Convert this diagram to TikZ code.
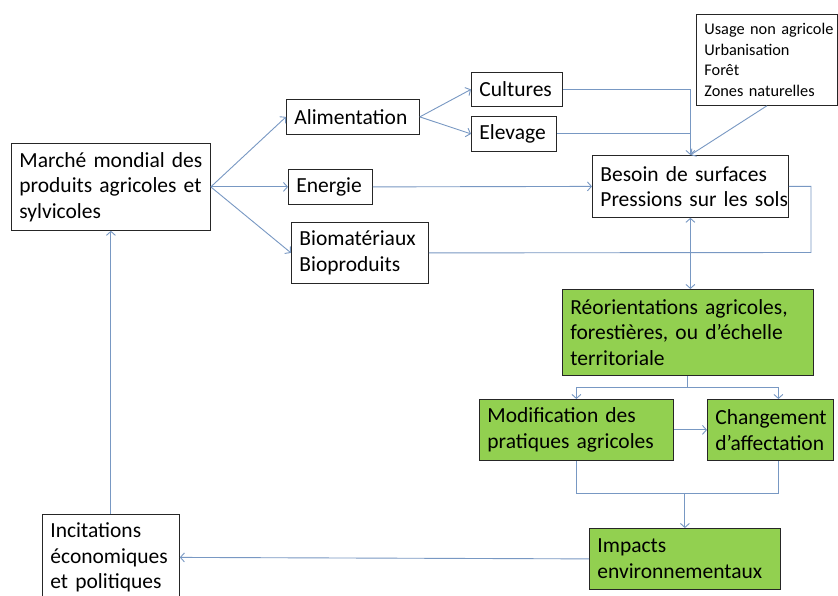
\documentclass[tikz,border=0pt]{standalone}
\usepackage{fontspec}
\setmainfont{Carlito}
\usetikzlibrary{arrows.meta,calc}
\definecolor{lnc}{RGB}{120,152,195}
\definecolor{grn}{RGB}{146,208,80}
\DeclareRobustCommand\bxfont{\fontsize{21.5}{25.5}\selectfont\spaceskip=0.17em\relax}
\DeclareRobustCommand\smfont{\fontsize{16.3}{20.5}\selectfont\spaceskip=0.2em\relax}
\begin{document}
\begin{tikzpicture}[x=1pt,y=-1pt,
  box/.style={draw=black!85,line width=0.8pt,anchor=north west,inner xsep=8pt,inner ysep=0pt,align=left,
    font=\bxfont},
  gbox/.style={box,fill=grn},
  small/.style={font=\smfont},
  ln/.style={draw=lnc,line width=0.9pt},
  arr/.style={ln,-{Straight Barb[length=4pt,width=9pt]}},
  darr/.style={ln,{Straight Barb[length=4pt,width=9pt]}-{Straight Barb[length=4pt,width=9pt]}}]
\useasboundingbox (0,0) rectangle (838,596);
\fill[white] (0,0) rectangle (838,596);
% boxes: text width = W - 16
\node[box,text width=183pt,minimum height=87pt] (marche) at (11,143) {\mbox{Marché mondial des}\\\mbox{produits agricoles et}\\sylvicoles};
\node[box,text width=117pt,minimum height=35pt] (alim) at (286,99) {Alimentation};
\node[box,text width=75pt,minimum height=34pt] (cult) at (471,72) {Cultures};
\node[box,text width=69pt,minimum height=35pt] (elev) at (471,116) {Elevage};
\node[box,text width=68pt,minimum height=35pt] (ener) at (288,169) {Energie};
\node[box,text width=121pt,minimum height=61pt] (bio) at (291,222) {Biomatériaux\\Bioproduits};
\node[box,small,text width=125pt,minimum height=91pt] (usage) at (696,14) {\mbox{Usage non agricole}\\Urbanisation\\Forêt\\\mbox{Zones naturelles}};
\node[box,text width=180pt,minimum height=62pt] (besoin) at (592,155) {\mbox{Besoin de surfaces}\\\mbox{Pressions sur les sols}};
\node[gbox,text width=235pt,minimum height=86pt] (reor) at (562,289) {\mbox{Réorientations agricoles,}\\\mbox{forestières, ou d’échelle}\\territoriale};
\node[gbox,text width=178pt,minimum height=61pt] (modif) at (479,399) {\mbox{Modification des}\\\mbox{pratiques agricoles}};
\node[gbox,text width=110pt,minimum height=61pt] (chang) at (707,399) {Changement\\d’affectation};
\node[gbox,text width=175pt,minimum height=61pt] (impacts) at (589,528) {Impacts\\environnementaux};
\node[box,text width=121pt,minimum height=86pt] (incit) at (42,514) {Incitations\\économiques\\\mbox{et politiques}};
% connectors
\draw[arr] (marche.east) -- (alim.west);
\draw[arr] (marche.east) -- (ener.west);
\draw[arr] (marche.east) -- (bio.west);
\draw[arr] (alim.east) -- (cult.west);
\draw[arr] (alim.east) -- (elev.west);
\draw[arr] (cult.east) -| (besoin.north);
\draw[ln] (elev.east) -- (elev.east -| besoin.north);
\draw[arr] (usage.south) -- (besoin.north);
\draw[arr] (ener.east) -- (besoin.west);
\coordinate (rc) at (811,252.5);
\draw[ln] (bio.east) -- (rc) |- (besoin.east);
\draw[darr] (besoin.south) -- (besoin.south |- reor.north);
\draw[ln] (reor.south) -- ++(0,12) coordinate (rs);
\coordinate (cn) at ([xshift=8pt]chang.north);
\coordinate (cs) at ([xshift=8pt]chang.south);
\draw[arr] (rs) -| (modif.north);
\draw[arr] (rs) -| (cn);
\draw[arr] (modif.east) -- (chang.west);
\draw[ln] (modif.south) -- ++(0,33) coordinate (ms) -- (ms -| cs) -- (cs);
\draw[arr] (ms -| impacts.north) -- (impacts.north);
\draw[arr] (impacts.west) -- (incit.east);
\draw[arr] (incit.north) -- (marche.south);
\end{tikzpicture}
\end{document}
